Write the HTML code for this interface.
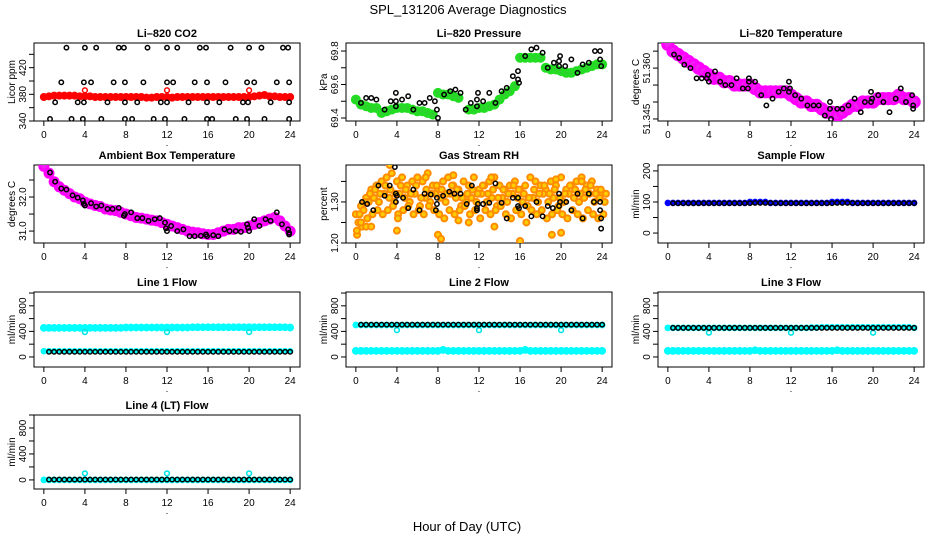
<!DOCTYPE html>
<html><head><meta charset="utf-8">
<style>
html,body{margin:0;padding:0;background:#fff;}
svg{display:block;font-family:"Liberation Sans",sans-serif;}
.tick{font-size:10px;}
.ptitle{font-size:11px;font-weight:bold;}
</style></head>
<body>
<svg id="chart" width="936" height="540" viewBox="0 0 936 540" xmlns="http://www.w3.org/2000/svg">
<text x="468" y="14" text-anchor="middle" font-size="13">SPL_131206  Average Diagnostics</text>
<text x="467" y="531" text-anchor="middle" font-size="13">Hour of Day (UTC)</text>
</svg>
<script>
// ---------- data ----------
const xTicks = [0,4,8,12,16,20,24];
const halfHours = [0,0.5,1,1.5,2,2.5,3,3.5,4,4.5,5,5.5,6,6.5,7,7.5,8,8.5,9,9.5,10,10.5,11,11.5,12,12.5,13,13.5,14,14.5,15,15.5,16,16.5,17,17.5,18,18.5,19,19.5,20,20.5,21,21.5,22,22.5,23,23.5,24];
const blackHours = [0.5,1,1.5,2,2.5,3,3.5,4,4.5,5,5.5,6,6.5,7,7.5,8,8.5,9,9.5,10,10.5,11,11.5,12,12.5,13,13.5,14,14.5,15,15.5,16,16.5,17,17.5,18,18.5,19,19.5,20,20.5,21,21.5,22,22.5,23,23.5,24];
const spikeHours = [4,12,20];

// CO2
const co2Red = [376,377,378,378,378,378,378,377,377,377,376,376,376,376,376,376,376,376,376,376,375,375,376,376,376,375,376,376,376,376,376,376,376,376,376,376,376,376,376,376,376,377,378,379,377,377,376,376,376];
const co2BlackX = [2.2,4,5.1,7.3,7.8,10.1,12,13,15.2,15.8,18.2,20,21.2,23.3,23.8, 1.7,3.9,4.6,6.8,7.9,9.7,12,12.6,14.7,15.9,17.7,19.8,20.5,22.7,23.9, 1.1,3.3,3.9,6.2,7.9,9.1,11.4,12,14.1,15.9,17.1,19.4,19.9,22.1,23.9, 0.6,2.7,3.8,5.6,7.9,8.6,10.7,11.8,13.7,15.9,16.4,18.7,19.8,21.5,23.9];
const co2BlackY = [450,450,450,450,450,450,450,450,450,450,450,450,450,450,450, 398,398,398,398,398,398,398,398,398,398,398,398,398,398,398, 368,368,368,368,368,368,368,368,368,368,368,368,368,368,368, 343,343,343,343,343,343,343,343,343,343,343,343,343,343,343];
const co2Spike = [386,386,386];

// Pressure
const presGreen = [69.51,69.48,69.47,69.46,69.46,69.43,69.44,69.45,69.46,69.46,69.46,69.45,69.44,69.44,69.43,69.42,69.55,69.54,69.54,69.53,69.52,null,69.45,69.45,69.46,69.46,69.47,69.48,69.51,69.54,69.56,69.59,69.76,69.76,69.76,69.76,69.76,69.70,69.69,69.69,69.68,69.67,69.67,69.68,69.69,69.70,69.71,69.72,69.72];
const presBlackX = [0.5,1,1.5,2,2.8,3.4,3.9,3.9,3.9,4.5,5.1,5.6,6.2,6.7,7.2,7.7,7.9,8,8.6,9.2,9.7,10.2,10.7,11.2,11.8,11.9,11.8,12.4,13,13.6,14.2,14.7,15.3,15.8,15.8,15.9,16.5,17.1,17.6,18.2,18.7,19.3,19.8,19.8,19.9,20.4,21,21.6,22.1,22.7,23.3,23.8,23.8,23.9];
const presBlackY = [69.49,69.52,69.52,69.51,69.45,69.50,69.50,69.55,69.47,69.51,69.53,69.45,69.49,69.49,69.52,69.50,69.45,69.40,69.54,69.56,69.57,69.55,69.45,69.49,69.51,69.55,69.47,69.50,69.55,69.49,69.56,69.58,69.65,69.63,69.68,69.61,69.77,69.81,69.82,69.79,69.70,69.73,69.74,69.71,69.77,69.71,69.75,69.67,69.72,69.73,69.80,69.80,69.75,69.71];

// Li-820 temperature
const tempMag = [51.367,51.365,51.364,51.363,51.362,51.361,51.360,51.359,51.358,51.357,51.357,51.356,51.356,51.355,51.355,51.355,51.355,51.354,51.353,51.353,51.353,51.353,51.353,51.353,51.352,51.351,51.350,51.350,51.349,51.349,51.348,51.347,51.347,51.346,51.347,51.348,51.349,51.349,51.350,51.350,51.350,51.351,51.351,51.351,51.351,51.352,51.351,51.351,51.350];
const tempBlackX = [0.6,1.1,1.6,2.2,2.8,3.3,3.8,3.9,4,4.6,5.1,5.6,6.2,6.7,7.3,7.8,7.9,7.9,8.5,9.1,9.6,10.2,10.8,11.3,11.8,11.8,11.9,12.4,13,13.6,14.2,14.7,15.3,15.8,15.8,15.9,16.5,17,17.6,18.2,18.8,19.2,19.8,19.8,19.9,20.5,21,21.6,22.2,22.7,23.2,23.8,23.9,23.9];
const tempBlackY = [51.364,51.363,51.361,51.360,51.357,51.357,51.357,51.358,51.356,51.359,51.356,51.355,51.355,51.357,51.354,51.354,51.356,51.357,51.356,51.352,51.349,51.351,51.353,51.354,51.353,51.356,51.354,51.352,51.351,51.349,51.349,51.349,51.346,51.350,51.348,51.345,51.348,51.348,51.349,51.351,51.347,51.350,51.353,51.350,51.351,51.352,51.350,51.347,51.351,51.354,51.350,51.352,51.349,51.348];

// Ambient box temperature
const ambMag = [32.9,32.7,32.45,32.3,32.2,32.1,32.0,31.95,31.85,31.8,31.75,31.72,31.65,31.62,31.6,31.55,31.5,31.45,31.4,31.38,31.35,31.32,31.3,31.25,31.2,31.15,31.1,31.05,31.0,30.97,30.95,30.92,30.9,30.9,30.95,31.0,31.05,31.05,31.1,31.1,31.15,31.2,31.25,31.3,31.35,31.4,31.3,31.15,31.0];
const ambBlackX = [0.6,1.1,1.7,2.2,2.8,3.3,3.8,3.9,4,4.6,5.1,5.6,6.2,6.7,7.3,7.8,7.9,8.5,9.1,9.6,10.2,10.8,11.3,11.8,11.9,12,12.4,13,13.6,14.2,14.7,15.3,15.8,15.9,16.5,17,17.6,18.1,18.7,19.2,19.8,19.9,20,20.5,21,21.6,22.1,22.7,23.2,23.8,23.9,23.9];
const ambBlackY = [32.72,32.45,32.25,32.22,32.05,31.98,31.9,31.8,31.75,31.82,31.72,31.75,31.65,31.65,31.68,31.45,31.5,31.55,31.38,31.38,31.3,31.35,31.38,31.25,31.08,31.0,31.15,31.0,31.05,30.85,30.85,30.86,30.9,30.85,30.88,30.85,31.05,31.0,31.0,30.98,31.2,31.1,31.0,31.35,31.15,31.35,31.3,31.55,31.2,31.05,30.95,30.9];

// Gas stream RH
const rhUpper = [1.27,1.29,1.31,1.33,1.34,1.35,1.36,1.37,1.35,1.36,1.34,1.35,1.36,1.35,1.37,1.34,1.33,1.35,1.36,1.34,1.33,1.35,1.34,1.36,1.33,1.34,1.35,1.36,1.34,1.33,1.34,1.35,1.33,1.34,1.36,1.35,1.34,1.33,1.35,1.34,1.36,1.33,1.34,1.35,1.36,1.34,1.35,1.33,1.32];
const rhMid = [1.25,1.28,1.30,1.31,1.30,1.32,1.31,1.30,1.32,1.31,1.30,1.32,1.29,1.31,1.30,1.32,1.31,1.30,1.32,1.31,1.29,1.30,1.31,1.30,1.32,1.30,1.31,1.29,1.31,1.30,1.32,1.31,1.30,1.29,1.31,1.30,1.32,1.30,1.31,1.29,1.30,1.32,1.31,1.30,1.31,1.32,1.30,1.31,1.30];
const rhLower = [1.22,1.24,1.26,1.27,1.28,1.27,1.28,1.29,1.27,1.28,1.29,1.27,1.28,1.27,1.29,1.28,1.27,1.26,1.28,1.27,1.28,1.29,1.27,1.28,1.26,1.28,1.27,1.28,1.29,1.27,1.26,1.28,1.27,1.25,1.28,1.27,1.28,1.26,1.27,1.28,1.27,1.26,1.28,1.27,1.26,1.28,1.27,1.26,1.27];
const rhOutX = [0.1,0.5,1,1.5,3.3,4,4.1,6.8,8,8.3,9.5,10,11,13.2,13.5,16,19.1,19.5,20,22];
const rhOutY = [1.23,1.25,1.24,1.24,1.39,1.23,1.26,1.36,1.22,1.21,1.365,1.255,1.25,1.36,1.24,1.205,1.22,1.355,1.225,1.35];
const rhBlackX = [0.6,1.1,1.7,2.2,2.8,3.3,3.8,3.9,3.9,4,4.6,5.1,5.6,6.2,6.7,7.3,7.8,7.9,7.9,8.5,9.1,9.6,10.2,10.8,11.3,11.8,11.8,11.9,12.4,13,13.6,14.2,14.7,15.3,15.8,15.8,15.9,16.5,17.1,17.6,18.2,18.7,19.2,19.8,19.8,19.9,20.5,21,21.6,22.1,22.7,23.2,23.8,23.8,23.9,23.9];
const rhBlackY = [1.30,1.295,1.28,1.34,1.315,1.34,1.385,1.32,1.30,1.315,1.31,1.285,1.33,1.28,1.32,1.318,1.28,1.31,1.295,1.315,1.325,1.32,1.32,1.295,1.34,1.285,1.28,1.295,1.295,1.298,1.345,1.298,1.26,1.31,1.31,1.29,1.285,1.29,1.265,1.30,1.265,1.29,1.285,1.32,1.29,1.30,1.30,1.28,1.32,1.26,1.32,1.30,1.30,1.28,1.26,1.235];

// Sample flow
const sfBlue = [97,97,97,97,97,97,97,97,97,97,97,97,97,97,97,97,100,100,100,100,97,97,97,97,97,97,97,97,97,97,97,97,100,100,100,100,97,97,97,97,97,97,97,97,97,97,97,97,97];
const sfBlack = [96,96,96,96,96,96,96,96,96,96,96,96,96,96,96,96,97,97,97,97,96,96,96,96,96,96,96,96,96,96,96,96,97,97,97,97,96,96,96,96,96,96,96,96,96,96,96,96];

// Line flows
const l1High = [455,455,455,455,455,455,455,455,455,455,455,455,455,455,455,455,460,460,460,460,460,460,460,460,460,460,460,460,460,465,465,465,465,465,465,465,465,465,465,465,465,465,465,465,465,465,465,465,460];
const l1Low = [90,90,90,90,90,90,90,90,90,90,90,90,90,90,90,90,90,90,90,90,90,90,90,90,90,90,90,90,90,90,90,90,90,90,90,90,90,90,90,90,90,90,90,90,90,90,90,90,90];
const l1Black = [80,80,80,80,80,80,80,80,80,80,80,80,80,80,80,80,80,80,80,80,80,80,80,80,80,80,80,80,80,80,80,80,80,80,80,80,80,80,80,80,80,80,80,80,80,80,80,80];
const l1Spike = [390,390,390];
const l2High = [500,500,500,500,500,500,500,500,500,500,500,500,500,500,500,500,500,500,500,500,500,500,500,500,500,500,500,500,500,500,500,500,500,500,500,500,500,500,500,500,500,500,500,500,500,500,500,500,500];
const l2Low = [95,95,95,95,95,95,95,95,95,95,95,95,95,95,95,95,95,110,95,95,95,95,95,95,95,95,95,95,95,95,95,95,95,110,95,95,95,95,95,95,95,95,95,95,95,95,95,95,95];
const l2Black = [505,505,505,505,505,505,505,505,505,505,505,505,505,505,505,505,505,505,505,505,505,505,505,505,505,505,505,505,505,505,505,505,505,505,505,505,505,505,505,505,505,505,505,505,505,505,505,505];
const l2Spike = [420,420,420];
const l3High = [455,455,455,455,455,455,455,455,455,455,455,455,455,455,455,455,455,455,455,455,455,455,455,455,455,455,455,455,460,460,465,465,465,465,465,465,465,465,465,465,465,465,465,465,465,465,465,465,455];
const l3Low = [95,95,95,95,95,95,95,95,95,95,95,95,95,95,95,95,95,105,95,95,95,95,95,95,95,95,95,95,95,95,95,95,95,105,95,95,95,95,95,95,95,95,95,95,95,95,95,95,95];
const l3Black = [455,455,455,455,455,455,455,455,455,455,455,455,455,455,455,455,455,455,455,455,455,455,455,455,455,455,455,455,455,455,455,455,455,455,455,455,455,455,455,455,455,455,455,455,455,455,455,455];
const l3Spike = [380,380,380];
const l4Cyan = [0,0,0,0,0,0,0,0,0,0,0,0,0,0,0,0,0,0,0,0,0,0,0,0,0,0,0,0,0,0,0,0,0,0,0,0,0,0,0,0,0,0,0,0,0,0,0,0,0];
const l4Black = [5,5,5,5,5,5,5,5,5,5,5,5,5,5,5,5,5,5,5,5,5,5,5,5,5,5,5,5,5,5,5,5,5,5,5,5,5,5,5,5,5,5,5,5,5,5,5,5];
const l4Spike = [100,100,100];

// ---------- drawing ----------
const NS = "http://www.w3.org/2000/svg";
const svg = document.getElementById("chart");
function mk(tag, attrs, parent){
  const e = document.createElementNS(NS, tag);
  for (const k in attrs) e.setAttribute(k, attrs[k]);
  (parent||svg).appendChild(e);
  return e;
}
function panel(p){
  const g = mk("g", {});
  
  
  const sx = v => p.l + (v + 0.96) / 25.92 * (p.r - p.l);
  const sy = v => p.b - (v - p.ymin) / (p.ymax - p.ymin) * (p.b - p.t);
  const t = mk("text", {x:(p.l+p.r)/2, y:p.t-6, "text-anchor":"middle", class:"ptitle"}, g);
  t.textContent = p.title;
  
  
  const box = mk("rect", {x:p.l, y:p.t, width:p.r-p.l, height:p.b-p.t, fill:"none", stroke:"#000", "stroke-width":1}, g);
  
  
  const xa = mk("g", {}, g);
  
  
  xTicks.forEach(v => {
    mk("line", {x1:sx(v), x2:sx(v), y1:p.b, y2:p.b+5, stroke:"#000"}, xa);
    const tx = mk("text", {x:sx(v), y:p.b+17, "text-anchor":"middle", class:"tick"}, xa);
    tx.textContent = v;
  });
  const dot = mk("text", {x:(p.l+p.r)/2, y:p.b+25, "text-anchor":"middle", "font-size":"9"}, xa);
  dot.textContent = ".";
  const ya = mk("g", {}, g);
  
  
  p.yticks.forEach(v => mk("line", {x1:p.l-5, x2:p.l, y1:sy(v), y2:sy(v), stroke:"#000"}, ya));
  p.ylabels.forEach((lab, i) => {
    const y = sy(p.ylabelVals[i]);
    const tx = mk("text", {x:p.l-8, y:y, "text-anchor":"middle", class:"tick", transform:`rotate(-90 ${p.l-8} ${y})`}, ya);
    tx.textContent = lab;
  });
  const yt = mk("text", {x:p.l-19, y:(p.t+p.b)/2, "text-anchor":"middle", "font-size":"10", transform:`rotate(-90 ${p.l-19} ${(p.t+p.b)/2})`}, g);
  yt.textContent = p.ytitle;
  
  
  const clip = "clip-" + p.name;
  const cp = mk("clipPath", {id:clip}, g);
  mk("rect", {x:p.l, y:p.t, width:p.r-p.l, height:p.b-p.t}, cp);
  const marks = mk("g", {"clip-path":`url(#${clip})`}, g);
  return {sx, sy, marks, name:p.name};
}
function series(P, xs, ys, style, label){
  const g = mk("g", {}, P.marks);
  
  
  xs.forEach((x, i) => {
    const v = ys[i];
    if (v === null || v === undefined) return;
    const c = mk("circle", {cx:P.sx(x), cy:P.sy(v), r:style.r, fill:style.fill||"none", stroke:style.stroke, "stroke-width":style.w}, g);
    
    
  });
}
const BLK = {r:2.2, stroke:"#000", w:1.5};
const cols = [[34,300],[346,612],[658,924]];
const rows = [[43,121],[165,243],[292,367],[415,489]];
const flowTicks = [0,200,400,600,800,1000];

// CO2
let P = panel({name:"co2", title:"Li\u2013820 CO2", ytitle:"Licor ppm", l:cols[0][0], r:cols[0][1], t:rows[0][0], b:rows[0][1], ymin:340, ymax:457, yticks:[340,360,380,400,420,440], ylabels:["340","380","420"], ylabelVals:[340,380,420]});
series(P, halfHours, co2Red, {r:2.8, stroke:"#ff0000", w:2.4, fill:"#ff0000"}, "red-series");
series(P, spikeHours, co2Spike, {r:2.4, stroke:"#ff0000", w:1.5}, "red-spikes");
series(P, co2BlackX, co2BlackY, BLK, "black-series");

// Pressure
P = panel({name:"pressure", title:"Li\u2013820 Pressure", ytitle:"kPa", l:cols[1][0], r:cols[1][1], t:rows[0][0], b:rows[0][1], ymin:69.382, ymax:69.848, yticks:[69.4,69.5,69.6,69.7,69.8], ylabels:["69.4","69.6","69.8"], ylabelVals:[69.4,69.6,69.8]});
series(P, halfHours, presGreen, {r:3.5, stroke:"#22dd22", w:3, fill:"#33cc33"}, "green-series");
series(P, presBlackX, presBlackY, BLK, "black-series");

// Li-820 temperature
P = panel({name:"li820-temperature", title:"Li\u2013820 Temperature", ytitle:"degrees C", l:cols[2][0], r:cols[2][1], t:rows[0][0], b:rows[0][1], ymin:51.3444, ymax:51.3674, yticks:[51.345,51.350,51.355,51.360,51.365], ylabels:["51.345","51.360"], ylabelVals:[51.345,51.360]});
series(P, halfHours, tempMag, {r:5, stroke:"#ff00ff", w:3.2, fill:"#ee22ee"}, "magenta-series");
series(P, tempBlackX, tempBlackY, BLK, "black-series");

// Ambient
P = panel({name:"ambient-temperature", title:"Ambient Box Temperature", ytitle:"degrees C", l:cols[0][0], r:cols[0][1], t:rows[1][0], b:rows[1][1], ymin:30.65, ymax:32.94, yticks:[31.0,31.5,32.0,32.5], ylabels:["31.0","32.0"], ylabelVals:[31.0,32.0]});
series(P, halfHours, ambMag, {r:4, stroke:"#ff00ff", w:3, fill:"#ee22ee"}, "magenta-series");
series(P, ambBlackX, ambBlackY, BLK, "black-series");

// RH
P = panel({name:"gas-stream-rh", title:"Gas Stream RH", ytitle:"percent", l:cols[1][0], r:cols[1][1], t:rows[1][0], b:rows[1][1], ymin:1.2, ymax:1.39, yticks:[1.20,1.25,1.30,1.35], ylabels:["1.20","1.30"], ylabelVals:[1.20,1.30]});
const RHS = {r:3, stroke:"#ff8c00", w:2, fill:"#ffcc00"};
series(P, halfHours.map(h => h), rhUpper, RHS, "rh-upper-series");
series(P, halfHours.map(h => h + 0.25), rhMid, RHS, "rh-mid-series");
series(P, halfHours.map(h => h + 0.12), rhLower, RHS, "rh-lower-series");
series(P, halfHours.map(h => h + 0.37), rhMid.map(v => v + 0.02), RHS, "rh-mid-upper-series");
series(P, rhOutX, rhOutY, RHS, "rh-outliers");
series(P, rhBlackX, rhBlackY, BLK, "black-series");

// Sample flow
P = panel({name:"sample-flow", title:"Sample Flow", ytitle:"ml/min", l:cols[2][0], r:cols[2][1], t:rows[1][0], b:rows[1][1], ymin:-32, ymax:219, yticks:[0,50,100,150,200], ylabels:["0","100","200"], ylabelVals:[0,100,200]});
series(P, halfHours, sfBlue, {r:2.3, stroke:"#0000ff", w:2, fill:"#0000ff"}, "blue-series");
series(P, blackHours, sfBlack, BLK, "black-series");

// Line 1
P = panel({name:"line1-flow", title:"Line 1 Flow", ytitle:"ml/min", l:cols[0][0], r:cols[0][1], t:rows[2][0], b:rows[2][1], ymin:-157, ymax:1016, yticks:flowTicks, ylabels:["0","400","800"], ylabelVals:[0,400,800]});
series(P, halfHours, l1High, {r:2.6, stroke:"#00ffff", w:2.6, fill:"#00ffff"}, "cyan-high-series");
series(P, halfHours, l1Low, {r:2.3, stroke:"#00ffff", w:2, fill:"#00ffff"}, "cyan-low-series");
series(P, spikeHours, l1Spike, {r:2.4, stroke:"#00e5e5", w:1.6}, "cyan-spikes");
series(P, blackHours, l1Black, BLK, "black-series");

// Line 2
P = panel({name:"line2-flow", title:"Line 2 Flow", ytitle:"ml/min", l:cols[1][0], r:cols[1][1], t:rows[2][0], b:rows[2][1], ymin:-157, ymax:1016, yticks:flowTicks, ylabels:["0","400","800"], ylabelVals:[0,400,800]});
series(P, halfHours, l2High, {r:2.4, stroke:"#00ffff", w:2, fill:"#00ffff"}, "cyan-high-series");
series(P, halfHours, l2Low, {r:2.6, stroke:"#00ffff", w:2.6, fill:"#00ffff"}, "cyan-low-series");
series(P, spikeHours, l2Spike, {r:2.4, stroke:"#00e5e5", w:1.6}, "cyan-spikes");
series(P, blackHours, l2Black, BLK, "black-series");

// Line 3
P = panel({name:"line3-flow", title:"Line 3 Flow", ytitle:"ml/min", l:cols[2][0], r:cols[2][1], t:rows[2][0], b:rows[2][1], ymin:-157, ymax:1016, yticks:flowTicks, ylabels:["0","400","800"], ylabelVals:[0,400,800]});
series(P, halfHours, l3High, {r:2.4, stroke:"#00ffff", w:2, fill:"#00ffff"}, "cyan-high-series");
series(P, halfHours, l3Low, {r:2.6, stroke:"#00ffff", w:2.6, fill:"#00ffff"}, "cyan-low-series");
series(P, spikeHours, l3Spike, {r:2.4, stroke:"#00e5e5", w:1.6}, "cyan-spikes");
series(P, blackHours, l3Black, BLK, "black-series");

// Line 4
P = panel({name:"line4-flow", title:"Line 4 (LT) Flow", ytitle:"ml/min", l:cols[0][0], r:cols[0][1], t:rows[3][0], b:rows[3][1], ymin:-140, ymax:1000, yticks:flowTicks, ylabels:["0","400","800"], ylabelVals:[0,400,800]});
series(P, halfHours, l4Cyan, {r:2.4, stroke:"#00ffff", w:2, fill:"#00ffff"}, "cyan-series");
series(P, spikeHours, l4Spike, {r:2.4, stroke:"#00e5e5", w:1.6}, "cyan-spikes");
series(P, blackHours, l4Black, BLK, "black-series");
</script>
</body></html>
